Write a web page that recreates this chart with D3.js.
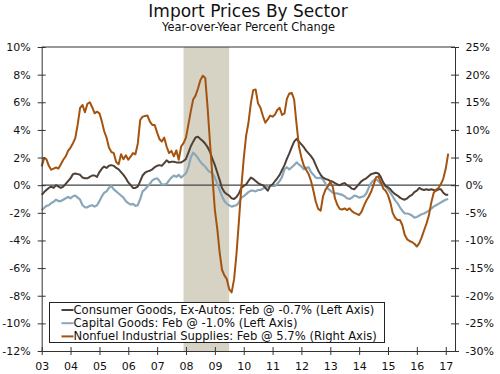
<!DOCTYPE html>
<html>
<head>
<meta charset="utf-8">
<script src="https://d3js.org/d3.v7.min.js"></script>
<style>
  body { margin: 0; background: #fff; }
  text { font-family: "DejaVu Sans", Verdana, sans-serif; }
</style>
</head>
<body>
<div id="chart"></div>
<script>
// Monthly y/y % change, Jan 2003 - Feb 2017
var consumerGoods = [
  -0.7, -0.5, -0.35, -0.2, -0.1, -0.2, 0.0, -0.1, -0.2, -0.1, 0.1, 0.3,
  0.5, 0.8, 0.85, 0.8, 0.75, 0.55, 0.5, 0.5, 0.6, 0.7, 0.7, 0.6,
  0.95, 1.2, 1.35, 1.25, 1.4, 1.45, 1.4, 1.25, 1.15, 0.95, 0.75, 0.5,
  0.2, 0.0, -0.2, -0.2, -0.1, 0.3, 0.7, 0.9, 1.0, 1.05, 1.15, 1.3,
  1.4, 1.45, 1.4, 1.6, 1.8, 1.65, 1.7, 1.7, 1.65, 1.65, 1.65, 1.75,
  1.9, 2.35, 2.8, 3.15, 3.45, 3.5, 3.35, 3.2, 3.0, 2.75, 2.4, 1.9,
  1.45, 0.9, 0.4, -0.2, -0.5, -0.65, -0.75, -0.95, -1.0, -0.85, -0.6, -0.2,
  -0.05, 0.05, 0.3, 0.55, 0.45, 0.3, 0.15, 0.05, 0.0, -0.2, -0.4, -0.05,
  0.05, 0.3, 0.5, 0.75, 1.1, 1.45, 1.9, 2.3, 2.75, 3.15, 3.35, 3.15,
  2.95, 2.75, 2.5, 2.3, 2.1, 1.85, 1.45, 1.05, 0.75, 0.55, 0.45, 0.4,
  0.3, 0.25, 0.15, 0.05, 0.0, 0.1, 0.15, 0.0, -0.1, -0.25, -0.3, -0.1,
  0.1, 0.3, 0.4, 0.5, 0.65, 0.8, 0.85, 0.9, 0.85, 0.6, 0.2, -0.05,
  -0.15, -0.3, -0.5, -0.65, -0.75, -0.9, -1.0, -1.05, -0.95, -0.8, -0.7, -0.5,
  -0.4, -0.2, -0.3, -0.35, -0.3, -0.35, -0.3, -0.35, -0.4, -0.3, -0.3, -0.55,
  -0.7, -0.7
];

var capitalGoods = [
  -1.8, -1.65, -1.5, -1.45, -1.3, -1.2, -1.05, -1.15, -1.15, -1.05, -0.95, -0.85,
  -0.95, -0.8, -0.75, -0.9, -1.05, -1.45, -1.6, -1.6, -1.5, -1.45, -1.55, -1.45,
  -1.15, -0.8, -0.55, -0.45, -0.2, -0.05, -0.3, -0.45, -0.6, -0.75, -0.9, -1.15,
  -1.3, -1.4, -1.35, -1.5, -1.45, -1.0, -0.45, -0.3, -0.1, 0.1, 0.35, 0.45,
  0.5, 0.3, 0.05, 0.05, 0.1, 0.35, 0.55, 0.7, 0.6, 0.75, 0.55, 0.7,
  0.85, 1.3, 2.0, 2.35, 2.2, 1.95, 1.7, 1.5, 1.35, 1.1, 0.95, 0.85,
  0.55, 0.1, -0.35, -0.8, -1.15, -1.35, -1.45, -1.55, -1.5, -1.45, -1.25, -0.9,
  -0.8, -0.65, -0.5, -0.4, -0.4, -0.45, -0.35, -0.35, -0.25, -0.15, -0.1, 0.0,
  -0.05, -0.05, 0.1, 0.3, 0.6, 1.15, 1.3, 1.15, 1.3, 1.45, 1.65, 1.5,
  1.35, 1.15, 1.25, 1.3, 0.95, 0.75, 0.55, 0.5, 0.55, 0.4, 0.1, -0.25,
  -0.4, -0.55, -0.6, -0.6, -0.65, -0.7, -0.8, -0.95, -1.0, -0.9, -0.75, -0.8,
  -0.9, -0.85, -0.8, -0.6, -0.2, 0.15, 0.35, 0.45, 0.3, 0.1, 0.0, -0.1,
  -0.3, -0.55, -0.8, -1.1, -1.3, -1.6, -1.85, -2.05, -2.05, -2.1, -2.2, -2.35,
  -2.3, -2.2, -2.1, -2.05, -1.95, -1.85, -1.7, -1.55, -1.45, -1.35, -1.25, -1.15,
  -1.05, -1.0
];

var nonfuelSupplies = [
  3.4, 4.9, 4.7, 3.5, 2.8, 3.0, 3.2, 3.0, 3.8, 4.6, 5.2, 6.2,
  6.8, 7.6, 8.5, 11.0, 14.0, 14.5, 13.2, 14.7, 15.0, 14.1, 13.0, 13.3,
  13.0, 11.5, 9.8, 8.6, 6.8, 6.0, 5.8, 4.2, 3.8, 5.6, 4.7, 5.4,
  4.6, 5.2, 5.8, 5.6, 7.5, 11.8, 12.4, 12.5, 12.6, 11.5, 10.9, 10.9,
  9.5, 8.3, 7.9, 8.6, 7.0, 5.8, 6.2, 5.2, 6.3, 4.6, 7.0, 7.6,
  8.6, 11.0, 13.3, 15.5, 16.2, 17.5, 19.0, 19.8, 19.4, 14.0, 7.5, 1.5,
  -4.5, -8.0, -12.0, -15.3, -16.3, -17.0, -18.8, -19.4, -17.0, -12.5, -6.5, -0.5,
  4.8, 9.0, 11.2, 14.8, 17.2, 17.3, 14.8, 14.0, 12.5, 11.3, 11.9, 12.6,
  12.4, 12.8, 13.6, 14.0, 12.7, 13.0, 15.6, 16.6, 16.7, 15.5, 11.0, 7.0,
  5.0, 3.5, 2.8, 2.0, 0.8, -1.0, -3.0, -4.3, -4.6, -2.0, -0.8, -0.2,
  0.6, -0.3, -2.4, -3.6, -4.3, -4.4, -4.2, -4.5, -4.2, -4.7, -5.0, -5.2,
  -5.4, -4.8, -3.8, -2.8, -2.1, -1.2, 0.0, 1.4, 1.6, 0.6, -0.6, -1.0,
  -1.8, -3.2, -5.0, -5.9, -6.3, -6.3, -7.2, -9.0, -9.8, -10.1, -10.3, -10.6,
  -11.1, -10.5, -9.5, -8.2, -7.0, -5.5, -3.2, -1.4, -0.8, -0.5, 0.2, 1.2,
  3.0, 5.7
];

var yearLabels = ["03", "04", "05", "06", "07", "08", "09", "10", "11", "12", "13", "14", "15", "16", "17"];
var leftTicks = [-12, -10, -8, -6, -4, -2, 0, 2, 4, 6, 8, 10];
var rightTicks = [-30, -25, -20, -15, -10, -5, 0, 5, 10, 15, 20, 25];
var recession = [new Date(2007, 11, 1), new Date(2009, 6, 1)];
var legendLabels = [
  "Consumer Goods, Ex-Autos: Feb @ -0.7% (Left Axis)",
  "Capital Goods: Feb @ -1.0% (Left Axis)",
  "Nonfuel Industrial Supplies: Feb @ 5.7% (Right Axis)"
];

var colors = { consumer: "#4f4037", capital: "#8aa7ba", nonfuel: "#a4530f" };

var svgWidth = 500;
var svgHeight = 374;
var plot = { left: 41.7, right: 455, top: 47, bottom: 351 };

var svg = d3.select("#chart")
  .append("svg")
  .attr("width", svgWidth)
  .attr("height", svgHeight);

function toSeries(values) {
  return values.map(function (v, i) {
    return { date: new Date(2003, i, 1), value: v };
  });
}

var x = d3.scaleTime()
  .domain([new Date(2003, 0, 1), new Date(2017, 3, 28)])
  .range([plot.left, plot.right]);
var yLeft = d3.scaleLinear().domain([-12, 10]).range([plot.bottom, plot.top]);
var yRight = d3.scaleLinear().domain([-30, 25]).range([plot.bottom, plot.top]);

// Recession shading
svg.append("rect")
  .attr("x", x(recession[0]))
  .attr("y", plot.top)
  .attr("width", x(recession[1]) - x(recession[0]))
  .attr("height", plot.bottom - plot.top)
  .attr("fill", "#d6d3c5");

// Zero line
svg.append("line")
  .attr("x1", plot.left).attr("x2", plot.right)
  .attr("y1", yLeft(0)).attr("y2", yLeft(0))
  .attr("stroke", "#444")
  .attr("stroke-width", 1.2);

var lineLeft = d3.line()
  .x(function (d) { return x(d.date); })
  .y(function (d) { return yLeft(d.value); });
var lineRight = d3.line()
  .x(function (d) { return x(d.date); })
  .y(function (d) { return yRight(d.value); });

svg.append("path")
  .datum(toSeries(capitalGoods))
  .attr("d", lineLeft)
  .attr("fill", "none")
  .attr("stroke", colors.capital)
  .attr("stroke-width", 2.2)
  .attr("stroke-linejoin", "round");

svg.append("path")
  .datum(toSeries(consumerGoods))
  .attr("d", lineLeft)
  .attr("fill", "none")
  .attr("stroke", colors.consumer)
  .attr("stroke-width", 2)
  .attr("stroke-linejoin", "round");

svg.append("path")
  .datum(toSeries(nonfuelSupplies))
  .attr("d", lineRight)
  .attr("fill", "none")
  .attr("stroke", colors.nonfuel)
  .attr("stroke-width", 2)
  .attr("stroke-linejoin", "round");

// Top border
svg.append("line")
  .attr("x1", plot.left).attr("x2", plot.right)
  .attr("y1", plot.top).attr("y2", plot.top)
  .attr("stroke", "#333");

// Axes
var leftAxis = d3.axisLeft(yLeft)
  .tickValues(leftTicks)
  .tickFormat(function (d) { return d + "%"; })
  .tickSizeInner(4).tickSizeOuter(0).tickPadding(7);
var rightAxis = d3.axisRight(yRight)
  .tickValues(rightTicks)
  .tickFormat(function (d) { return d + "%"; })
  .tickSizeInner(4).tickSizeOuter(0).tickPadding(6.5);
var bottomAxis = d3.axisBottom(x)
  .tickValues(yearLabels.map(function (d, i) { return new Date(2003 + i, 0, 1); }))
  .tickFormat(function (d, i) { return yearLabels[i]; })
  .tickSizeInner(4).tickSizeOuter(0).tickPadding(6.7);

var gLeft = svg.append("g")
  .attr("transform", "translate(" + plot.left + ",0)")
  .call(leftAxis);
gLeft.selectAll(".tick line").attr("x1", 4);

var gRight = svg.append("g")
  .attr("transform", "translate(" + plot.right + ",0)")
  .call(rightAxis);
gRight.selectAll(".tick line").attr("x1", -4);

var gBottom = svg.append("g")
  .attr("transform", "translate(0," + plot.bottom + ")")
  .call(bottomAxis);
gBottom.selectAll(".tick line").attr("y1", -4);

[gLeft, gRight, gBottom].forEach(function (g) {
  g.select(".domain").attr("stroke", "#333");
  g.selectAll(".tick line").attr("stroke", "#333");
  g.selectAll(".tick text")
    .attr("font-family", "DejaVu Sans, Verdana, sans-serif")
    .attr("font-size", 11)
    .attr("fill", "#111");
});

// Title
svg.append("text")
  .attr("x", 248)
  .attr("y", 16.5)
  .attr("text-anchor", "middle")
  .attr("font-size", 17)
  .attr("fill", "#111")
  .text("Import Prices By Sector");
svg.append("text")
  .attr("x", 248.5)
  .attr("y", 31.2)
  .attr("text-anchor", "middle")
  .attr("font-size", 11.4)
  .attr("fill", "#111")
  .text("Year-over-Year Percent Change");

// Legend
var legend = svg.append("g");
legend.append("rect")
  .attr("x", 49.5)
  .attr("y", 302.5)
  .attr("width", 335)
  .attr("height", 40)
  .attr("fill", "#fff")
  .attr("stroke", "#222");

var legendColors = [colors.consumer, colors.capital, colors.nonfuel];
legendLabels.forEach(function (label, i) {
  var cy = 310 + i * 13.2;
  legend.append("line")
    .attr("x1", 61.5).attr("x2", 73.5)
    .attr("y1", cy).attr("y2", cy)
    .attr("stroke", legendColors[i])
    .attr("stroke-width", 2);
  legend.append("text")
    .attr("x", 73.5)
    .attr("y", cy + 3.9)
    .attr("font-size", 11.6)
    .attr("fill", "#111")
    .text(label);
});
</script>
</body>
</html>
